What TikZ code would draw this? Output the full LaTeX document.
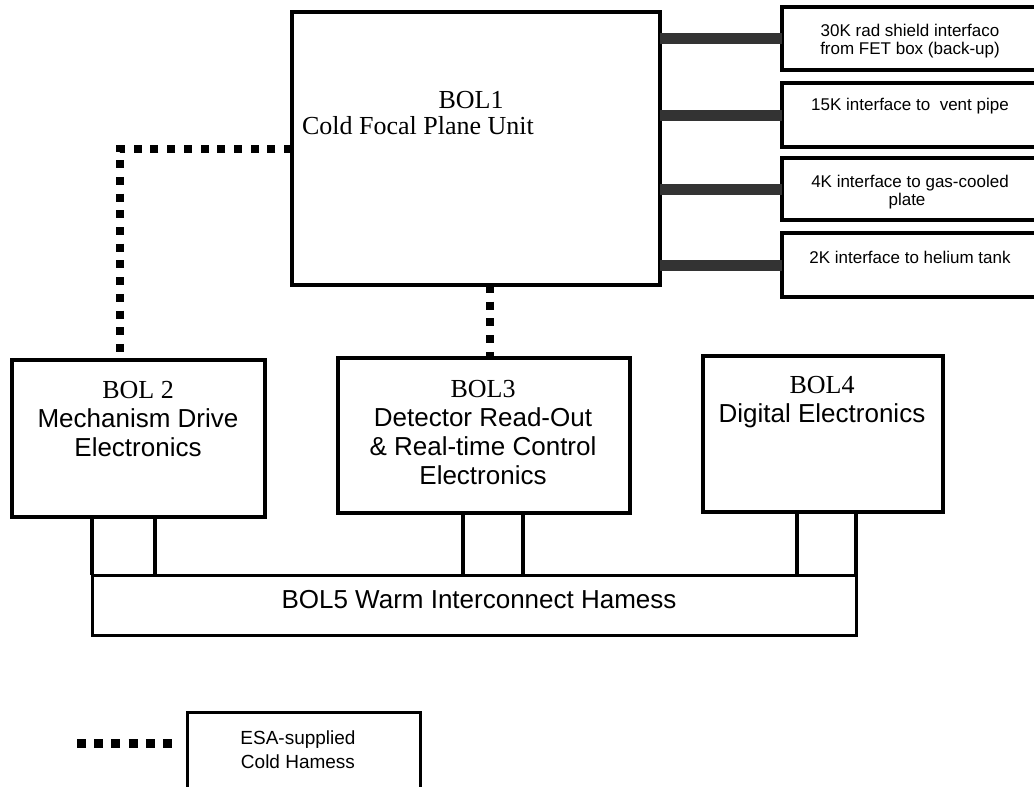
\documentclass[tikz,border=0pt]{standalone}
\usepackage{fontspec}
\newfontfamily\sansf{Liberation Sans}
\newfontfamily\seriff{Liberation Serif}
\begin{document}
\begin{tikzpicture}[x=1pt,y=-1pt,
  box/.style={draw=black, line width=3.5pt, inner sep=0pt, outer sep=0pt, anchor=north west},
  iface/.style={box, line width=4pt},
  titlel/.style={font=\seriff\fontsize{26}{28}\selectfont, anchor=base, inner sep=0pt},
  sansl/.style={font=\sansf\fontsize{26}{28}\selectfont, anchor=base, inner sep=0pt},
  ifacel/.style={font=\sansf\fontsize{17}{19}\selectfont, anchor=base, inner sep=0pt},
  legendl/.style={font=\sansf\fontsize{19}{21}\selectfont, anchor=base, inner sep=0pt},
  cold/.style={line width=8pt, dash pattern=on 8pt off 8.7pt},
  coldkey/.style={line width=9pt, dash pattern=on 9pt off 8.2pt},
  thermal/.style={line width=11pt, draw=black!80},
  wire/.style={line width=3.5pt}]
\useasboundingbox (0,0) rectangle (1034,787);
\clip (0,0) rectangle (1034,787);

% units
\node[box, minimum width=368pt, minimum height=273pt] (bol1) at (292,12) {};
\node[box, minimum width=253pt, minimum height=157pt] (bol2) at (12,360) {};
\node[box, minimum width=292pt, minimum height=155pt] (bol3) at (338,358) {};
\node[box, minimum width=240pt, minimum height=156pt] (bol4) at (703,356) {};
\node[box, line width=3pt, minimum width=764pt, minimum height=60pt] (bol5) at (92,575) {};

% thermal interfaces
\node[iface, minimum width=300pt, minimum height=63pt] (if1) at (782,7) {};
\node[iface, minimum width=300pt, minimum height=64pt] (if2) at (782,83) {};
\node[iface, minimum width=300pt, minimum height=62pt] (if3) at (782,158) {};
\node[iface, minimum width=300pt, minimum height=64pt] (if4) at (782,233) {};

% labels
\node[titlel] (l1a) at (471,108) {BOL1};
\node[titlel] (l1b) at (418,134) {Cold Focal Plane Unit};

\node[titlel] (l2a) at (138,398) {BOL 2};
\node[sansl] (l2b) at (138,427) {Mechanism Drive};
\node[sansl] (l2c) at (138,456) {Electronics};

\node[titlel] (l3a) at (483,397) {BOL3};
\node[sansl] (l3b) at (483,426) {Detector Read-Out};
\node[sansl] (l3c) at (483,455) {\& Real-time Control};
\node[sansl] (l3d) at (483,484) {Electronics};

\node[titlel] (l4a) at (822,393) {BOL4};
\node[sansl] (l4b) at (822,422) {Digital Electronics};

\node[sansl] (l5) at (479,608) {BOL5 Warm Interconnect Hamess};

\node[ifacel] (i1a) at (910,36) {30K rad shield interfaco};
\node[ifacel] (i1b) at (910,54) {from FET box (back-up)};
\node[ifacel] (i2) at (910,110) {15K interface to\ \ vent pipe};
\node[ifacel] (i3a) at (910,187) {4K interface to gas-cooled};
\node[ifacel] (i3b) at (907,205) {plate};
\node[ifacel] (i4) at (910,263) {2K interface to helium tank};

% thermal links
\draw[thermal] (bol1.east |- if1.west) -- (if1.west);
\draw[thermal] (bol1.east |- if2.west) -- (if2.west);
\draw[thermal] (bol1.east |- if3.west) -- (if3.west);
\draw[thermal] (bol1.east |- if4.west) -- (if4.west);

% cold harness
\coordinate (bend) at (120,0);
\coordinate (drop) at (490,0);
\draw[cold] (bol1.west) -| (bol2.north -| bend);
\draw[cold] (bol1.south -| drop) -- (bol3.north -| drop);

% warm harness
\coordinate (w2) at (155,0);
\coordinate (w3) at (463,0);
\coordinate (w4) at (523,0);
\coordinate (w5) at (797,0);
\draw[wire] (bol2.south -| bol5.west) -- (bol5.north west);
\draw[wire] (bol2.south -| w2) -- (bol5.north -| w2);
\draw[wire] (bol3.south -| w3) -- (bol5.north -| w3);
\draw[wire] (bol3.south -| w4) -- (bol5.north -| w4);
\draw[wire] (bol4.south -| w5) -- (bol5.north -| w5);
\draw[wire] (bol4.south -| bol5.east) -- (bol5.north east);

% key
\node[box, line width=3pt, minimum width=233pt, minimum height=100pt] (key) at (187,712) {};
\node[legendl] (k1) at (298,744) {ESA-supplied};
\node[legendl] (k2) at (298,768) {Cold Hamess};
\coordinate (kA) at (77,743);
\coordinate (kB) at (172,743);
\draw[coldkey] (kA) -- (kB);
\end{tikzpicture}
\end{document}
